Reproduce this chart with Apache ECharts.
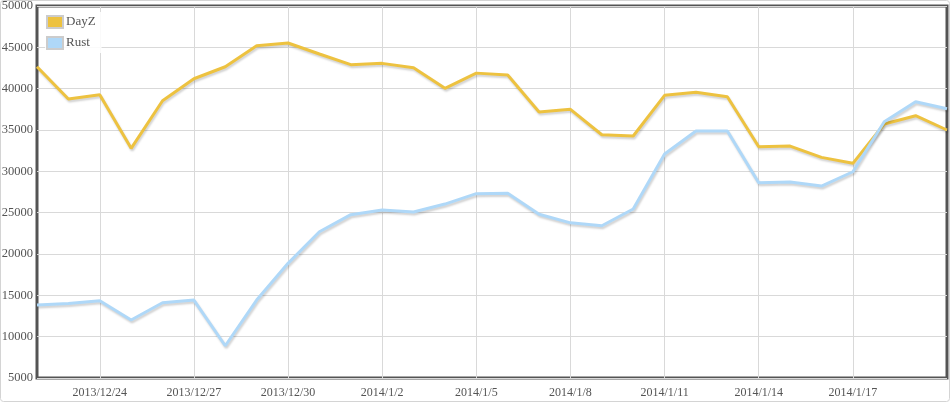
<!DOCTYPE html>
<html>
<head>
<meta charset="utf-8">
<script src="https://cdn.jsdelivr.net/npm/echarts@6/dist/echarts.min.js"></script>
<style>
html,body{margin:0;padding:0;background:#fff;}
#chart{width:951px;height:404px;}
</style>
</head>
<body>
<div id="chart"></div>
<script>
var categories = [
  '2013/12/22','2013/12/23','2013/12/24','2013/12/25','2013/12/26','2013/12/27','2013/12/28','2013/12/29','2013/12/30','2013/12/31',
  '2014/1/1','2014/1/2','2014/1/3','2014/1/4','2014/1/5','2014/1/6','2014/1/7','2014/1/8','2014/1/9','2014/1/10',
  '2014/1/11','2014/1/12','2014/1/13','2014/1/14','2014/1/15','2014/1/16','2014/1/17','2014/1/18','2014/1/19','2014/1/20'
];
var dayzValues = [
  42650, 38750, 39270, 32780, 38540, 41200, 42650, 45200, 45520, 44190,
  42900, 43060, 42540, 40040, 41880, 41650, 37170, 37500, 34430, 34270,
  39190, 39560, 39030, 32980, 33060, 31690, 30970, 35720, 36730, 35000
];
var rustValues = [
  13820, 14020, 14350, 12010, 14100, 14430, 8900, 14430, 18870, 22690,
  24760, 25320, 25080, 26040, 27300, 27340, 24810, 23770, 23420, 25440,
  32090, 34880, 34880, 28620, 28700, 28220, 29950, 36000, 38420, 37580
];
var seriesNames = ['DayZ', 'Rust'];
var seriesColors = ['#edc240', '#afd8f8'];

var chart = echarts.init(document.getElementById('chart'), null, {renderer: 'canvas'});
var font = '"Liberation Serif", "Times New Roman", serif';
function labelEvery(i) { return i % 3 === 2 && i < categories.length - 1; }
function mkSeries(name, data, color) {
  return {
    name: name,
    type: 'line',
    data: data,
    showSymbol: false,
    symbol: 'none',
    color: color,
    lineStyle: {
      width: 3,
      color: color,
      shadowColor: 'rgba(0,0,0,0.18)',
      shadowBlur: 2,
      shadowOffsetX: 1,
      shadowOffsetY: 2
    },
    itemStyle: {color: color, borderColor: '#cccccc', borderWidth: 1}
  };
}
chart.setOption({
  animation: false,
  backgroundColor: '#ffffff',
  textStyle: {fontFamily: font},
  graphic: [{
    type: 'rect',
    z: -10,
    silent: true,
    shape: {x: 0.5, y: 0.5, width: 949, height: 401, r: 3},
    style: {fill: 'none', stroke: '#d4d4d4', lineWidth: 1}
  }],
  grid: {
    left: 37, right: 4, top: 6, bottom: 26,
    containLabel: false,
    outerBoundsMode: 'none',
    show: true,
    borderColor: '#545454',
    borderWidth: 3,
    backgroundColor: 'transparent'
  },
  legend: {
    left: 45, top: 12,
    orient: 'vertical',
    icon: 'rect',
    itemWidth: 16,
    itemHeight: 12,
    itemGap: 7,
    padding: [3, 6, 3, 1],
    backgroundColor: 'rgba(255,255,255,0.85)',
    textStyle: {fontFamily: font, fontSize: 13, color: '#545454', padding: [0, 0, 0, -2]},
    data: seriesNames
  },
  xAxis: {
    type: 'category',
    boundaryGap: false,
    data: categories,
    axisLine: {show: false},
    axisTick: {show: false},
    axisLabel: {
      interval: function (i) { return labelEvery(i); },
      fontFamily: font, fontSize: 12, color: '#545454', margin: 9
    },
    splitLine: {
      show: true,
      interval: function (i) { return labelEvery(i); },
      lineStyle: {color: '#d9d9d9', width: 1}
    }
  },
  yAxis: {
    type: 'value',
    min: 5000,
    max: 50000,
    interval: 5000,
    axisLine: {show: false},
    axisTick: {show: false},
    axisLabel: {
      fontFamily: font, fontSize: 12.5, color: '#545454', margin: 4,
      formatter: function (v) { return String(v); }
    },
    splitLine: {show: true, lineStyle: {color: '#d9d9d9', width: 1}}
  },
  series: [
    mkSeries(seriesNames[0], dayzValues, seriesColors[0]),
    mkSeries(seriesNames[1], rustValues, seriesColors[1])
  ]
});
</script>
</body>
</html>
